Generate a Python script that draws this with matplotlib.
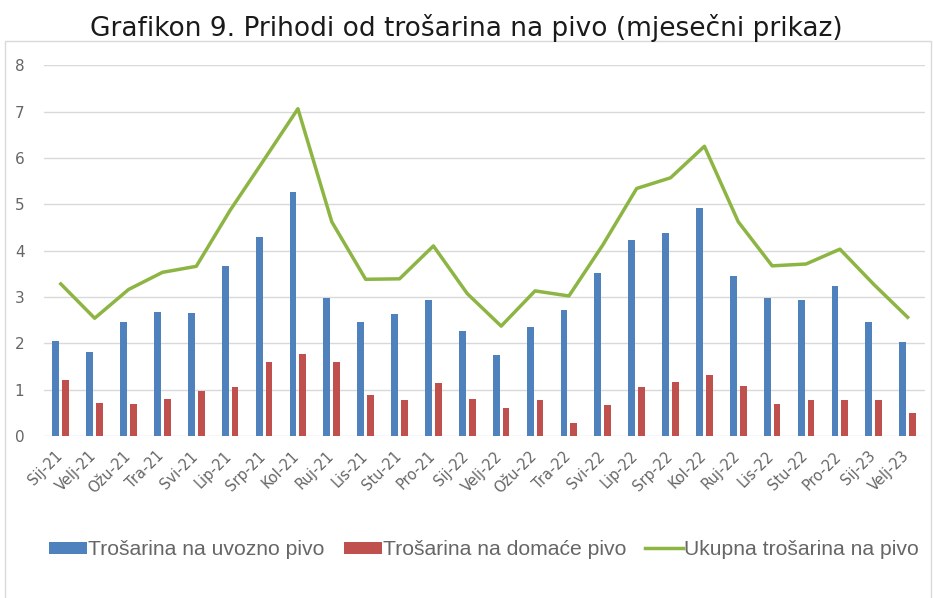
import matplotlib
matplotlib.use('Agg')
import matplotlib.pyplot as plt
import matplotlib.transforms as mtransforms
import numpy as np
from matplotlib.patches import Rectangle

# mjeseci
mjeseci = ['Sij-21', 'Velj-21', 'Ožu-21', 'Tra-21', 'Svi-21', 'Lip-21', 'Srp-21',
           'Kol-21', 'Ruj-21', 'Lis-21', 'Stu-21', 'Pro-21', 'Sij-22', 'Velj-22',
           'Ožu-22', 'Tra-22', 'Svi-22', 'Lip-22', 'Srp-22', 'Kol-22', 'Ruj-22',
           'Lis-22', 'Stu-22', 'Pro-22', 'Sij-23', 'Velj-23']

uvozno = [2.04, 1.82, 2.45, 2.67, 2.65, 3.67, 4.30, 5.27, 2.98, 2.45, 2.63, 2.94, 2.26,
          1.75, 2.34, 2.72, 3.52, 4.22, 4.38, 4.91, 3.46, 2.97, 2.93, 3.24, 2.46, 2.03]
domace = [1.20, 0.72, 0.70, 0.80, 0.98, 1.06, 1.59, 1.77, 1.59, 0.89, 0.78, 1.14, 0.79,
          0.60, 0.78, 0.27, 0.67, 1.06, 1.16, 1.31, 1.08, 0.70, 0.78, 0.77, 0.77, 0.49]
ukupno = [3.28, 2.54, 3.16, 3.53, 3.66, 4.87, 5.96, 7.06, 4.62, 3.38, 3.39, 4.10, 3.07,
          2.37, 3.13, 3.02, 4.12, 5.34, 5.57, 6.25, 4.62, 3.67, 3.71, 4.03, 3.27, 2.56]

plava = '#4f81bd'
crvena = '#c0504d'
zelena = '#8db543'
siva = '#666666'

fig = plt.figure(figsize=(9.33, 5.98), dpi=100)
ax = fig.add_axes([0.047, 0.271, 0.944, 0.62])

x = np.arange(len(mjeseci))
w = 0.2
b1 = ax.bar(x - 0.145, uvozno, w, color=plava, label='Trošarina na uvozno pivo', zorder=3)
b2 = ax.bar(x + 0.145, domace, w, color=crvena, label='Trošarina na domaće pivo', zorder=3)
l1, = ax.plot(x, ukupno, color=zelena, lw=2.5, label='Ukupna trošarina na pivo', zorder=4)

ax.set_xlim(-0.5, len(mjeseci) - 0.5)
ax.set_ylim(0, 8)
ax.set_yticks(range(0, 9))
ax.grid(axis='y', color='#d9d9d9', lw=1, zorder=0)
for s in ax.spines.values():
    s.set_visible(False)
ax.tick_params(length=0, colors=siva)
ax.tick_params(axis='y', labelsize=11, pad=14)
ax.set_xticks(x)
ax.set_xticklabels(mjeseci, rotation=45, ha='right', rotation_mode='anchor', fontsize=10.5)
ax.tick_params(axis='x', pad=9)
pomak = mtransforms.ScaledTranslation(-6 / 100, 0, fig.dpi_scale_trans)
for t in ax.get_xticklabels():
    t.set_transform(t.get_transform() + pomak)

fig.text(0.5, 1 - 36 / 598, 'Grafikon 9. Prihodi od trošarina na pivo (mjesečni prikaz)',
         ha='center', va='baseline', fontsize=19, color='#1a1a1a')

# okvir grafikona
fig.patches.append(Rectangle((5 / 933, -0.05), 926 / 933, 1.05 - 41 / 598,
                             transform=fig.transFigure, fill=False,
                             edgecolor='#d9d9d9', lw=1))

fig.legend(handles=[b1, b2, l1], loc='center', bbox_to_anchor=(0.519, 0.081), ncol=3,
           frameon=False, prop={'family': 'Liberation Sans', 'size': 15.2},
           labelcolor=siva, handlelength=1.8, handleheight=0.5,
           handletextpad=0.05, columnspacing=0.9)

fig.savefig('out.png', dpi=100)
